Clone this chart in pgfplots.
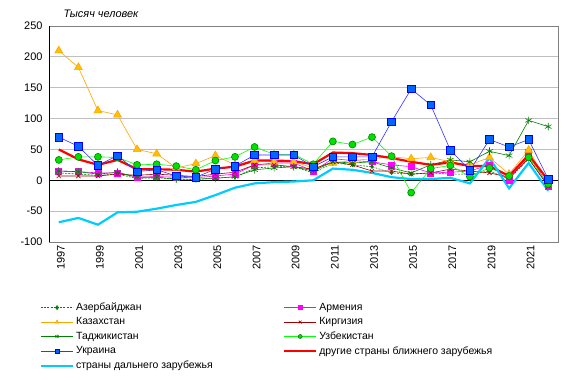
\documentclass[border=0pt]{standalone}
\usepackage{pgfplots}
\pgfplotsset{compat=1.18}
\usepackage{fontspec}
\setmainfont{Liberation Sans}
\definecolor{az}{HTML}{008000}
\definecolor{am}{HTML}{FF00FF}
\definecolor{kzl}{HTML}{FFA500}
\definecolor{kzf}{HTML}{FFC000}
\definecolor{kg}{HTML}{A00000}
\definecolor{tj}{HTML}{008000}
\definecolor{uzl}{HTML}{00FF00}
\definecolor{uzf}{HTML}{00E000}
\definecolor{ual}{HTML}{3333FF}
\definecolor{uaf}{HTML}{0066FF}
\definecolor{ot}{HTML}{FF0000}
\definecolor{fa}{HTML}{00CCFF}
\newcommand\lc[1]{\makebox[205bp][l]{#1}}
\begin{document}
\begin{tikzpicture}
\useasboundingbox (-49bp,-139bp) rectangle (524bp,242bp);
\begin{axis}[
  at={(0,0)}, anchor=south west,
  scale only axis, width=509bp, height=216bp,
  xmin=1996.5, xmax=2022.5, ymin=-100, ymax=250,
  xtick={1997,1999,...,2021}, ytick={-100,-50,...,250},
  /pgf/number format/assume math mode=true,
  /pgf/number format/1000 sep={},
  tick label style={font=\fontsize{11}{13}\selectfont},
  y tick label style={xshift=-3bp},
  x tick label style={rotate=90, anchor=east, yshift=-2bp},
  tick style={draw=none},
  ymajorgrids, major grid style={draw=black!25, line width=0.8pt},
  axis line style={draw=black!50},
  extra y ticks={0}, extra y tick labels={},
  extra y tick style={grid=major, major grid style={black, line width=0.8pt}},
  legend columns=2,
  legend style={at={(-0.024,-0.263)}, anchor=north west, draw=none, fill=none,
    font=\fontsize{10.5}{12}\selectfont, row sep=1.5pt,
    cells={anchor=west}},
  legend image code/.code={\draw[mark repeat=2,mark phase=2,#1,mark size=2bp] plot coordinates {(0bp,0bp)(16bp,0bp)(32bp,0bp)};},
  clip=false,
]
\addplot[az, line width=0.6pt, dash pattern=on 2bp off 1.2bp, mark=diamond*, mark size=1.8bp, mark options={solid}] coordinates {
(1997,12)(1998,10)(1999,8)(2000,10)(2001,3)(2002,4)(2003,2)(2004,1)(2005,4)(2006,5)(2007,20)(2008,22)(2009,22)(2010,12)(2011,28)(2012,25)(2013,22)(2014,12)(2015,10)(2016,12)(2017,10)(2018,10)(2019,15)(2020,2)(2021,35)(2022,-8)};
\addlegendentry{\lc{Азербайджан}}
\addplot[am, line width=0.6pt, mark=square*, mark size=3bp, mark options={fill=am, draw=am}] coordinates {
(1997,15)(1998,14)(1999,12)(2000,12)(2001,5)(2002,6)(2003,5)(2004,4)(2005,7)(2006,10)(2007,25)(2008,28)(2009,28)(2010,15)(2011,35)(2012,32)(2013,30)(2014,25)(2015,22)(2016,12)(2017,13)(2018,15)(2019,25)(2020,0)(2021,45)(2022,-10)};
\addlegendentry{Армения}
\addplot[kzl, line width=0.6pt, mark=triangle*, mark size=4.5bp, mark options={fill=kzf, draw=kzl}] coordinates {
(1997,210)(1998,183)(1999,113)(2000,106)(2001,50)(2002,43)(2003,20)(2004,27)(2005,40)(2006,25)(2007,32)(2008,30)(2009,30)(2010,20)(2011,28)(2012,32)(2013,35)(2014,38)(2015,35)(2016,37)(2017,30)(2018,25)(2019,37)(2020,10)(2021,49)(2022,-5)};
\addlegendentry{\lc{Казахстан}}
\addplot[kg, line width=0.6pt, mark=x, mark size=3bp] coordinates {
(1997,7)(1998,7)(1999,7)(2000,10)(2001,8)(2002,10)(2003,8)(2004,6)(2005,10)(2006,13)(2007,25)(2008,25)(2009,22)(2010,18)(2011,30)(2012,25)(2013,15)(2014,15)(2015,10)(2016,12)(2017,18)(2018,15)(2019,12)(2020,5)(2021,35)(2022,-10)};
\addlegendentry{Киргизия}
\addplot[tj, line width=0.6pt, mark=asterisk, mark size=3.8bp] coordinates {
(1997,15)(1998,14)(1999,10)(2000,13)(2001,5)(2002,5)(2003,2)(2004,2)(2005,3)(2006,6)(2007,17)(2008,20)(2009,22)(2010,15)(2011,30)(2012,28)(2013,30)(2014,20)(2015,12)(2016,25)(2017,33)(2018,30)(2019,47)(2020,40)(2021,97)(2022,87)};
\addlegendentry{\lc{Таджикистан}}
\addplot[uzl, line width=0.6pt, mark=*, mark size=3.5bp, mark options={fill=uzf, draw=az}] coordinates {
(1997,33)(1998,38)(1999,38)(2000,37)(2001,25)(2002,26)(2003,23)(2004,17)(2005,32)(2006,38)(2007,54)(2008,42)(2009,42)(2010,26)(2011,63)(2012,58)(2013,70)(2014,39)(2015,-20)(2016,19)(2017,24)(2018,6)(2019,20)(2020,7)(2021,37)(2022,-6)};
\addlegendentry{Узбекистан}
\addplot[ot, line width=2.2pt, forget plot] coordinates {
(1997,50)(1998,34)(1999,25)(2000,33)(2001,18)(2002,18)(2003,17)(2004,14)(2005,19)(2006,22)(2007,32)(2008,32)(2009,31)(2010,26)(2011,45)(2012,44)(2013,41)(2014,36)(2015,30)(2016,25)(2017,29)(2018,23)(2019,23)(2020,7)(2021,41)(2022,0)};
\addplot[fa, line width=2.2pt, forget plot] coordinates {
(1997,-68)(1998,-61)(1999,-72)(2000,-52)(2001,-51)(2002,-46)(2003,-40)(2004,-35)(2005,-24)(2006,-12)(2007,-5)(2008,-3)(2009,-2)(2010,0)(2011,19)(2012,17)(2013,12)(2014,5)(2015,2)(2016,2)(2017,4)(2018,-5)(2019,36)(2020,-13)(2021,28)(2022,-17)};
\addplot[ual, line width=0.6pt, mark=square*, mark size=3.8bp, mark options={fill=uaf, draw=blue}] coordinates {
(1997,70)(1998,55)(1999,24)(2000,40)(2001,14)(2002,17)(2003,7)(2004,5)(2005,18)(2006,23)(2007,41)(2008,41)(2009,41)(2010,22)(2011,38)(2012,38)(2013,38)(2014,95)(2015,148)(2016,122)(2017,49)(2018,16)(2019,66)(2020,54)(2021,66)(2022,2)};
\addlegendentry{\lc{Украина}}
\addlegendimage{ot, line width=2.2pt}
\addlegendentry{другие страны ближнего зарубежья}
\addlegendimage{fa, line width=2.2pt}
\addlegendentry{\lc{страны дальнего зарубежья}}
\draw[black, line width=0.8pt] (rel axis cs:0,0) -- (rel axis cs:0,1);
\end{axis}
\node[anchor=west, font=\fontsize{11}{13}\selectfont\itshape] at (11bp,228bp) {Тысяч человек};
\end{tikzpicture}
\end{document}
